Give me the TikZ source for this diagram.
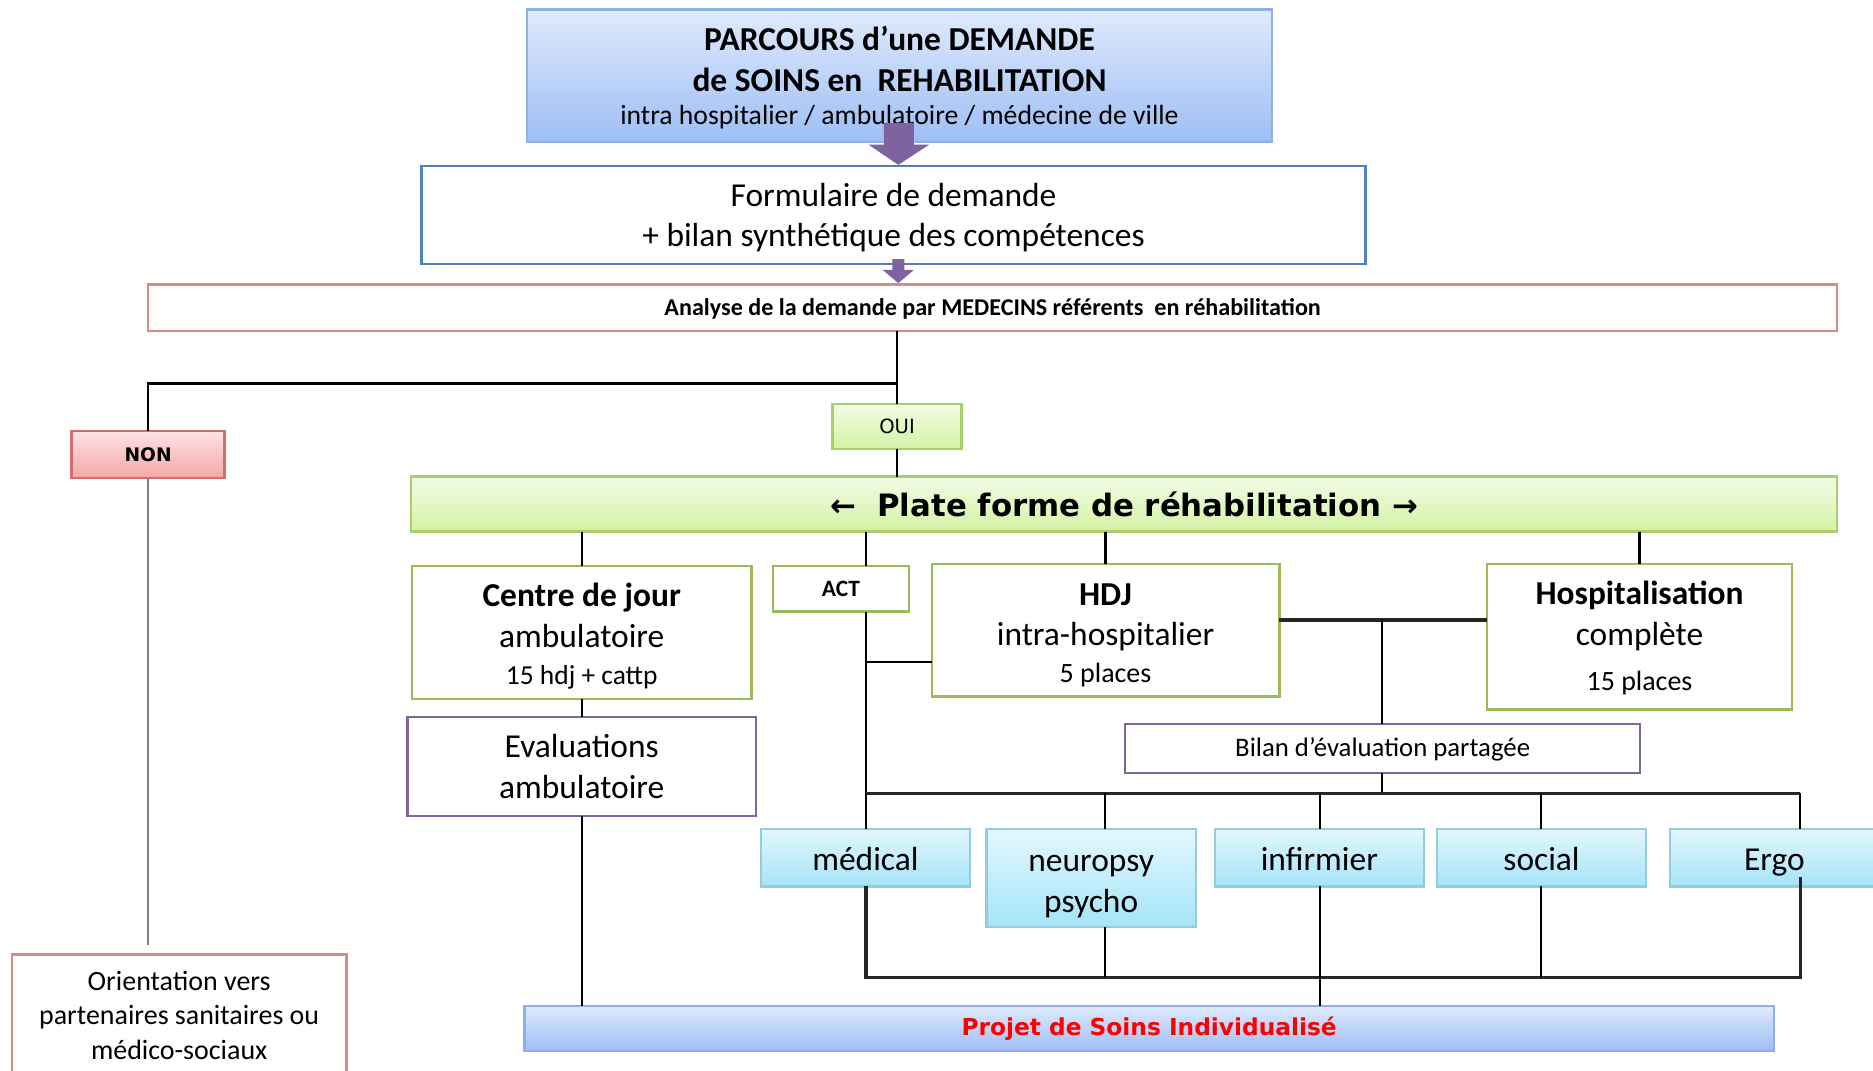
\documentclass[tikz,border=0pt]{standalone}
\usepackage{fontspec}
\setmainfont{Carlito}
\newfontfamily\dvfont{DejaVu Sans}
\usetikzlibrary{calc}
\definecolor{titleborder}{HTML}{8DB0E8}
\definecolor{titletop}{HTML}{DFEAFD}
\definecolor{titlebot}{HTML}{9EBEF4}
\definecolor{formborder}{HTML}{4F81BD}
\definecolor{redborder}{HTML}{D38B8B}
\definecolor{nonborder}{HTML}{D46E6E}
\definecolor{pinktop}{HTML}{FDE3E3}
\definecolor{pinkbot}{HTML}{F6A6A6}
\definecolor{greentop}{HTML}{F2FCE6}
\definecolor{greenbot}{HTML}{D4F2A3}
\definecolor{greenlt}{HTML}{A9CF6D}
\definecolor{greenborder}{HTML}{9BBB59}
\definecolor{purpleborder}{HTML}{8064A2}
\definecolor{cyantop}{HTML}{E2F7FD}
\definecolor{cyanbot}{HTML}{A5E4F8}
\definecolor{cyanborder}{HTML}{93CDDD}
\definecolor{arrowpurple}{HTML}{7F62A0}
\definecolor{projred}{HTML}{FF0000}
\newcommand\mkbox[7]{%
  \node[#6, minimum width={(#4-#2)*0.5pt}, minimum height={(#5-#3)*0.5pt}] (#1) at ({(#2+#4)/2},{(#3+#5)/2}) {#7};}
\newcommand\skstrut{\rule{0pt}{13.5pt}\vphantom{g}}
\tikzset{
  base/.style={inner sep=0pt, outer sep=0pt, align=center, line width=1pt, text=black},
  titlebox/.style={base, draw=titleborder, top color=titletop, bottom color=titlebot, font=\fontsize{14}{17}\selectfont},
  formbox/.style={base, draw=formborder, fill=white, font=\fontsize{14}{17}\selectfont},
  anabox/.style={base, draw=redborder, fill=white, font=\fontsize{10.1}{12}\selectfont\bfseries},
  ouibox/.style={base, draw=greenlt, top color=greentop, bottom color=greenbot, font=\dvfont\fontsize{8.2}{10}\selectfont},
  nonbox/.style={base, draw=nonborder, top color=pinktop, bottom color=pinkbot, font=\dvfont\fontsize{7.8}{10}\selectfont\bfseries},
  platebox/.style={base, draw=greenlt, top color=greentop, bottom color=greenbot, font=\dvfont\fontsize{12.9}{15}\selectfont\bfseries},
  greenbox/.style={base, draw=greenborder, fill=white, font=\fontsize{14}{17}\selectfont},
  actbox/.style={base, draw=greenborder, fill=white, font=\fontsize{9.8}{12}\selectfont\bfseries},
  purplebox/.style={base, draw=purpleborder, fill=white, font=\fontsize{14}{17}\selectfont},
  bilanbox/.style={base, draw=purpleborder, fill=white, font=\fontsize{11.2}{13}\selectfont},
  skillbox/.style={base, draw=cyanborder, top color=cyantop, bottom color=cyanbot, font=\fontsize{14}{17}\selectfont},
  orientbox/.style={base, draw=redborder, fill=white, font=\fontsize{11.7}{14.3}\selectfont},
  projbox/.style={base, draw=titleborder, top color=titletop, bottom color=titlebot, font=\dvfont\fontsize{9.75}{12}\selectfont\bfseries, text=projred},
  link/.style={draw=black, line width=1pt},
  bus/.style={draw=black!85, line width=1.3pt},
  greylink/.style={draw=black!50, line width=1pt},
  blockarrow/.style={fill=arrowpurple, draw=none},
}
\begin{document}
\begin{tikzpicture}[x=0.5pt, y=-0.5pt]
\clip (0,0) rectangle (1568,896);
\fill[white] (0,0) rectangle (1568,896);

% ---- boxes
\mkbox{title}{441}{8}{1065}{119}{titlebox}{\rule{0pt}{12pt}{\bfseries PARCOURS d’une DEMANDE}\\{\bfseries de SOINS en\ \ REHABILITATION}\\[-3pt]{\fontsize{11.6}{14}\selectfont intra hospitalier / ambulatoire / médecine de ville}}
\mkbox{form}{353}{139}{1143}{221}{formbox}{\rule{0pt}{12pt}Formulaire de demande\\+ bilan synthétique des compétences}
\mkbox{ana}{124}{238}{1538}{277}{anabox}{\rule{0pt}{8.5pt}Analyse de la demande par MEDECINS référents\ \ en réhabilitation}
\mkbox{oui}{697}{338}{805}{376}{ouibox}{OUI}
\mkbox{non}{60}{361}{188}{400}{nonbox}{NON}
\mkbox{plate}{344}{399}{1538}{445}{platebox}{←\ \ Plate forme de réhabilitation →}
\mkbox{cdj}{345}{474}{629}{585}{greenbox}{\rule{0pt}{13pt}{\bfseries Centre de jour}\\ambulatoire\\[-1.5pt]{\fontsize{11.5}{14}\selectfont 15 hdj + cattp}}
\mkbox{act}{647}{474}{761}{512}{actbox}{ACT}
\mkbox{hdj}{780}{472}{1071}{583}{greenbox}{\rule{0pt}{13.5pt}{\bfseries HDJ}\\intra-hospitalier\\[-1.5pt]{\fontsize{11.7}{14}\selectfont 5 places}}
\mkbox{hosp}{1245}{472}{1500}{594}{greenbox}{\rule{0pt}{11pt}{\bfseries Hospitalisation}\\complète\\[2pt]{\fontsize{11.7}{14}\selectfont 15 places}}
\mkbox{eval}{341}{600}{633}{683}{purplebox}{Evaluations\\ambulatoire}
\mkbox{bilan}{942}{606}{1373}{647}{bilanbox}{\rule{0pt}{9pt}Bilan d’évaluation partagée}
\mkbox{med}{637}{694}{812}{742}{skillbox}{\skstrut médical}
\mkbox{neuro}{826}{694}{1001}{776}{skillbox}{\rule{0pt}{14pt}neuropsy\\psycho}
\mkbox{inf}{1017}{694}{1192}{742}{skillbox}{\skstrut infirmier}
\mkbox{soc}{1203}{694}{1378}{742}{skillbox}{\skstrut social}
\mkbox{ergo}{1398}{694}{1573}{742}{skillbox}{\skstrut Ergo}
\mkbox{orient}{10}{799}{290}{901}{orientbox}{Orientation vers\\partenaires sanitaires ou\\médico-sociaux}
\mkbox{projet}{439}{842}{1485}{880}{projbox}{Projet de Soins Individualisé}

% ---- junction coordinates
\coordinate (jnon) at (751,321);
\coordinate (xact) at (725,0);
\coordinate (jhdjl) at (725,554);
\coordinate (jhh) at (1157,519);
\coordinate (ybus) at (0,664);
\coordinate (ybot) at (0,818);
\coordinate (xneu) at (925,0);
\coordinate (xinf) at (1105,0);
\coordinate (xsoc) at (1290,0);
\coordinate (xerg) at (1507,0);

% ---- connectors
\draw[link] (oui.north |- ana.south) -- (oui.north);
\draw[link] (jnon) -| (non.north);
\draw[link] (oui.south) -- (oui.south |- plate.north);
\draw[greylink] (non.south) -- ([yshift=4pt]non.south |- orient.north);
\draw[link] (cdj.north |- plate.south) -- (cdj.north);
\draw[link] (xact |- plate.south) -- (xact |- act.north);
\draw[link] (hdj.north |- plate.south) -- (hdj.north);
\draw[link] (hosp.north |- plate.south) -- (hosp.north);
\draw[link] (cdj.south) -- (eval.north -| cdj.south);
\draw[link] (eval.south) -- (eval.south |- projet.north);
\draw[link] (xact |- act.south) -- (xact |- med.north);
\draw[link] (jhdjl) -- (jhdjl -| hdj.west);
\draw[bus] (jhh -| hdj.east) -- (jhh -| hosp.west);
\draw[link] (jhh) -- (jhh |- bilan.north);
\draw[link] (jhh |- bilan.south) -- (jhh |- ybus);
\draw[bus] (xact |- ybus) -- (xerg |- ybus);
\draw[link] (xneu |- ybus) -- (xneu |- neuro.north);
\draw[link] (xinf |- ybus) -- (xinf |- inf.north);
\draw[link] (xsoc |- ybus) -- (xsoc |- soc.north);
\draw[link] (xerg |- ybus) -- (xerg |- ergo.north);
\draw[bus] (xact |- med.south) -- (xact |- ybot) -- (xerg |- ybot) -- ([yshift=4pt]xerg |- ergo.south);
\draw[link] (xneu |- neuro.south) -- (xneu |- ybot);
\draw[link] (xinf |- inf.south) -- (xinf |- projet.north);
\draw[link] (xsoc |- soc.south) -- (xsoc |- ybot);

% ---- purple block arrows
\fill[blockarrow] (740,103) -- (765,103) -- (765,121) -- (778,121) -- (752,138) -- (727,121) -- (740,121) -- cycle;
\fill[blockarrow] (747,217) -- (757,217) -- (757,226) -- (765,226) -- (752,237) -- (739,226) -- (747,226) -- cycle;
\end{tikzpicture}
\end{document}
